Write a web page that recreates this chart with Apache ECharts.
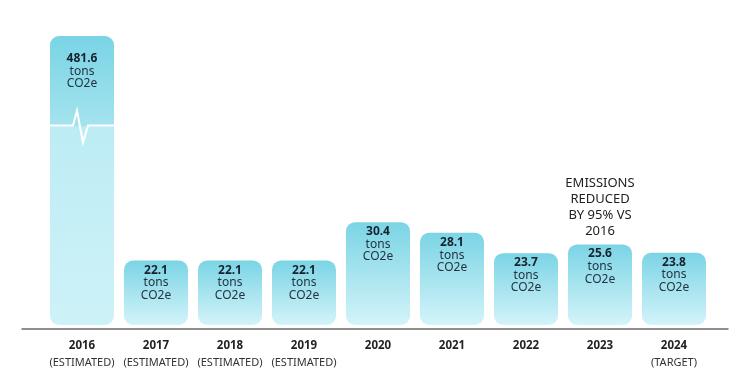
<!DOCTYPE html>
<html>
<head>
<meta charset="utf-8">
<script src="https://cdn.jsdelivr.net/npm/echarts@6/dist/echarts.min.js"></script>
<style>html,body{margin:0;padding:0;background:#fff}#c{width:750px;height:380px}</style>
</head>
<body>
<div id="c"></div>
<script>
const years = ['2016','2017','2018','2019','2020','2021','2022','2023','2024'];
const notes = ['(ESTIMATED)','(ESTIMATED)','(ESTIMATED)','(ESTIMATED)','','','','','(TARGET)'];
const emissions = [481.6, 22.1, 22.1, 22.1, 30.4, 28.1, 23.7, 25.6, 23.8];
const unitText = ['tons', 'CO2e'];
const annotation = 'EMISSIONS\nREDUCED\nBY 95% VS\n2016';
const annotatedYear = '2023';

const FONT = '"Noto Sans", "Open Sans", sans-serif';
const chart = echarts.init(document.getElementById('c'), null, {renderer: 'canvas'});

function grad(stops) {
  return new echarts.graphic.LinearGradient(0, 0, 0, 1, stops.map(s => ({offset: s[0], color: s[1]})));
}
const normalGrad = [[0, '#7bd4e5'], [1, '#d3f4f9']];
const brokenGrad = [[0, '#79d4e5'], [0.31, '#a4e3ee'], [0.315, '#bdecf4'], [1, '#cdf2f8']];

const barData = emissions.map((v, i) => {
  const broken = v > 100;
  return {
    value: v,
    itemStyle: {color: grad(broken ? brokenGrad : normalGrad)},
    label: {distance: broken ? 16 : 3}
  };
});

chart.setOption({
  animation: false,
  grid: [
    {left: 45, right: 39, top: 36, bottom: 55},
    {left: 22, right: 22, top: 200, bottom: 51}
  ],
  xAxis: [
    {
      type: 'category', data: years, gridIndex: 0,
      axisLine: {show: false}, axisTick: {show: false},
      axisLabel: {
        interval: 0,
        margin: 12,
        formatter: (val, idx) => '{y|' + val + '}\n{n|' + (notes[idx] || ' ') + '}',
        rich: {
          y: {fontFamily: FONT, fontWeight: 'bold', fontSize: 11.5, color: '#222', lineHeight: 17, letterSpacing: 0.7},
          n: {fontFamily: FONT, fontSize: 11, color: '#333', lineHeight: 17, letterSpacing: 1}
        }
      }
    },
    {
      type: 'value', gridIndex: 1, min: 0, max: 1,
      axisLine: {show: true, lineStyle: {color: '#6b6b6b', width: 1.5}},
      axisTick: {show: false}, axisLabel: {show: false}, splitLine: {show: false}
    }
  ],
  yAxis: [
    {
      type: 'value', gridIndex: 0, min: 8.2, max: 481.6,
      show: false, splitLine: {show: false},
      breaks: [{start: 40, end: 474, gap: 23}],
      breakArea: {show: false, itemStyle: {color: 'rgba(0,0,0,0)', borderWidth: 0, opacity: 0}}
    },
    {type: 'value', gridIndex: 1, show: false, splitLine: {show: false}}
  ],
  series: [{
    type: 'bar',
    xAxisIndex: 0, yAxisIndex: 0,
    barWidth: 64,
    data: barData,
    itemStyle: {borderRadius: 9},
    label: {
      show: true, position: 'insideTop',
      formatter: p => '{v|' + p.value + '}\n{u|' + unitText[0] + '}\n{u|' + unitText[1] + '}',
      rich: {
        v: {fontFamily: FONT, fontWeight: 'bold', fontSize: 12, color: '#16222e', lineHeight: 13, align: 'center', letterSpacing: 0.3},
        u: {fontFamily: FONT, fontSize: 12, color: '#25323f', lineHeight: 12.5, align: 'center', letterSpacing: 0.6}
      }
    },
    markPoint: {
      symbol: 'circle', symbolSize: 0,
      data: [{coord: [annotatedYear, emissions[years.indexOf(annotatedYear)]]}],
      label: {
        show: true, position: 'top', distance: 5,
        formatter: annotation,
        fontFamily: FONT, fontSize: 13, lineHeight: 16, color: '#222', align: 'center', letterSpacing: 0.6
      }
    }
  }]
});

// heartbeat break marker on the truncated bar, placed from the axis break
(function () {
  const idx = emissions.findIndex(v => v > 100);
  if (idx < 0) return;
  const cx = chart.convertToPixel({xAxisIndex: 0}, years[idx]);
  const yLow = chart.convertToPixel({yAxisIndex: 0}, 40);
  const yHigh = chart.convertToPixel({yAxisIndex: 0}, 474);
  const y = (yLow + yHigh) / 2 + 1;
  const half = 32;
  chart.setOption({
    graphic: [{
      type: 'polyline', silent: true, z: 100,
      shape: {points: [[cx - half, y], [cx - 9, y], [cx - 5, y - 15], [cx + 1, y + 17], [cx + 6, y], [cx + half, y]]},
      style: {stroke: '#ffffff', lineWidth: 2, fill: null, lineJoin: 'miter'}
    }]
  });
})();
</script>
</body>
</html>
